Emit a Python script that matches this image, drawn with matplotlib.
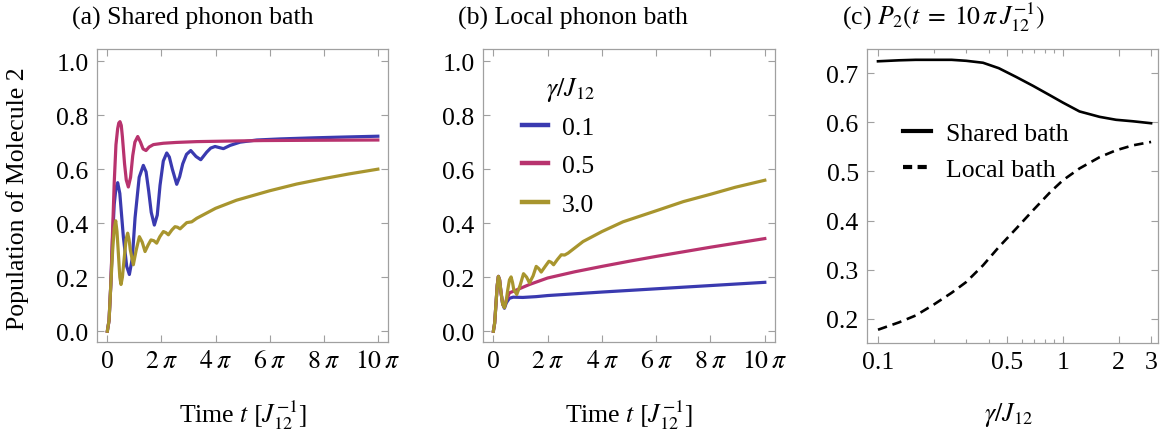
import numpy as np
import matplotlib
matplotlib.use("Agg")
import matplotlib.pyplot as plt
from matplotlib.ticker import FixedLocator, NullFormatter

plt.rcParams['font.family'] = ['Liberation Serif', 'DejaVu Serif']
plt.rcParams['mathtext.fontset'] = 'stix'

# ---- panel (a): shared phonon bath, time in units of 1/J12
t_a_01 = [0, 0.2, 0.4, 0.6, 0.8, 1.0, 1.2, 1.45, 1.86, 2.25, 2.56, 2.90, 3.22, 3.70, 4.18, 4.50, 4.80, 5.10, 5.46, 5.80,
          6.12, 6.50, 6.90, 7.20, 7.55, 8.06, 8.40, 8.76, 9.20, 9.69, 10.30, 10.85, 11.54, 12.0, 12.51, 13.0, 13.48, 14.26, 15.42, 17.36,
          20.07, 23.94, 27.5, 31.42]
p_a_01 = [0, 0.04, 0.17, 0.34, 0.47, 0.53, 0.55, 0.51, 0.35, 0.24, 0.21, 0.27, 0.42, 0.57, 0.614, 0.59, 0.52, 0.44, 0.393, 0.43,
          0.54, 0.63, 0.66, 0.645, 0.60, 0.544, 0.572, 0.62, 0.655, 0.669, 0.647, 0.635, 0.663, 0.678, 0.684, 0.680, 0.676, 0.688, 0.700, 0.708,
          0.712, 0.716, 0.719, 0.722]
t_a_05 = [0, 0.2, 0.4, 0.6, 0.8, 1.0, 1.2, 1.33, 1.47, 1.62, 1.75, 2.0, 2.2, 2.44, 2.7, 2.95, 3.2, 3.53, 3.85, 4.15,
          4.49, 4.85, 5.35, 6.51, 8.0, 10.38, 14.0, 18.13, 24.0, 31.42]
p_a_05 = [0, 0.04, 0.17, 0.36, 0.55, 0.69, 0.75, 0.771, 0.776, 0.762, 0.72, 0.62, 0.56, 0.534, 0.57, 0.65, 0.70, 0.721, 0.70, 0.675,
          0.669, 0.682, 0.691, 0.696, 0.699, 0.702, 0.704, 0.706, 0.707, 0.708]
t_a_30 = [0, 0.2, 0.4, 0.62, 0.8, 0.97, 1.12, 1.28, 1.45, 1.59, 1.75, 1.98, 2.18, 2.36, 2.52, 2.67, 3.02, 3.35, 3.72, 4.05,
          4.38, 4.75, 5.07, 5.40, 5.73, 6.10, 6.51, 6.80, 7.09, 7.50, 7.86, 8.15, 8.45, 9.22, 9.80, 10.38, 12.57, 15.0, 18.85, 22.0,
          25.13, 28.0, 31.42]
p_a_30 = [0, 0.04, 0.17, 0.30, 0.38, 0.409, 0.37, 0.289, 0.20, 0.173, 0.20, 0.277, 0.34, 0.363, 0.34, 0.301, 0.246, 0.30, 0.350, 0.33,
          0.295, 0.32, 0.338, 0.335, 0.326, 0.35, 0.369, 0.365, 0.357, 0.375, 0.387, 0.385, 0.379, 0.402, 0.405, 0.418, 0.455, 0.485, 0.52, 0.545,
          0.565, 0.582, 0.60]

# ---- panel (b): local phonon bath
t_b_01 = [0, 0.15, 0.31, 0.45, 0.58, 0.72, 0.89, 1.08, 1.28, 1.50, 1.86, 2.3, 3.41, 4.96, 6.28, 12.57, 18.85, 25.13, 31.42]
p_b_01 = [0, 0.03, 0.105, 0.17, 0.203, 0.19, 0.142, 0.10, 0.085, 0.105, 0.122, 0.126, 0.125, 0.128, 0.132, 0.145, 0.157, 0.169, 0.181]
t_b_05 = [0, 0.15, 0.31, 0.45, 0.58, 0.72, 0.89, 1.08, 1.28, 1.50, 1.86, 2.63, 4.18, 6.28, 9.42, 12.57, 15.71, 18.85, 21.99, 25.13,
          28.27, 31.42]
p_b_05 = [0, 0.03, 0.105, 0.17, 0.203, 0.19, 0.142, 0.10, 0.09, 0.115, 0.142, 0.152, 0.173, 0.197, 0.22, 0.240, 0.259, 0.277, 0.294, 0.311,
          0.327, 0.343]
t_b_30 = [0, 0.15, 0.31, 0.45, 0.58, 0.72, 0.89, 1.08, 1.28, 1.47, 1.67, 1.86, 2.05, 2.22, 2.36, 2.71, 3.10, 3.49, 3.85, 4.18,
          4.60, 4.96, 5.25, 5.54, 6.0, 6.43, 6.70, 6.97, 7.40, 7.86, 8.25, 8.64, 9.41, 10.38, 12.57, 15.0, 18.85, 22.0, 25.13, 28.0,
          31.42]
p_b_30 = [0, 0.03, 0.105, 0.17, 0.203, 0.19, 0.142, 0.10, 0.087, 0.11, 0.154, 0.19, 0.201, 0.18, 0.154, 0.136, 0.17, 0.213, 0.20, 0.179,
          0.205, 0.240, 0.232, 0.219, 0.24, 0.259, 0.255, 0.246, 0.265, 0.283, 0.282, 0.289, 0.308, 0.332, 0.369, 0.405, 0.446, 0.48, 0.507, 0.533,
          0.559]

# ---- panel (c): P2 at t = 10 pi / J12 vs gamma/J12
gamma_c = [0.1, 0.13, 0.16, 0.2, 0.25, 0.3, 0.37, 0.45, 0.56, 0.69, 0.85, 1.0, 1.23, 1.58, 1.94, 2.39, 3.0]
p2_shared = [0.724, 0.726, 0.727, 0.727, 0.727, 0.725, 0.721, 0.710, 0.692, 0.674, 0.655, 0.640, 0.622, 0.611, 0.605, 0.602, 0.598]
p2_local = [0.178, 0.193, 0.207, 0.229, 0.253, 0.275, 0.309, 0.346, 0.384, 0.421, 0.457, 0.482, 0.506, 0.529, 0.543, 0.553, 0.560]

gamma_labels = ['0.1', '0.5', '3.0']
colors = ['#3a3ab0', '#b8336e', '#a8952e']
pi_ticks = [0, 2*np.pi, 4*np.pi, 6*np.pi, 8*np.pi, 10*np.pi]
pi_labels = ['0', r'$2\:\pi$', r'$4\:\pi$', r'$6\:\pi$', r'$8\:\pi$', r'$10\:\pi$']

W, H = 1160, 435
fig = plt.figure(figsize=(W/100, H/100), dpi=100)
ax_a = fig.add_axes([97/W, 92/H, 291/W, 293/H])
ax_b = fig.add_axes([483/W, 92/H, 292/W, 293/H])
ax_c = fig.add_axes([867/W, 91/H, 291/W, 294/H])

frame = '#a0a0a0'
fs = 18.5

def style(ax):
    for s in ax.spines.values():
        s.set_color(frame)
        s.set_linewidth(0.9)
    ax.tick_params(which='both', direction='in', top=True, right=True, color=frame,
                   labelsize=fs, pad=6, width=0.8)
    ax.tick_params(which='major', length=5)
    ax.tick_params(which='minor', length=3)

for ax, series in [(ax_a, [(t_a_01, p_a_01), (t_a_05, p_a_05), (t_a_30, p_a_30)]),
                   (ax_b, [(t_b_01, p_b_01), (t_b_05, p_b_05), (t_b_30, p_b_30)])]:
    for (t, p), c, lab in zip(series, colors, gamma_labels):
        ax.plot(t, p, color=c, lw=2.3, label=lab, solid_joinstyle='round')
    ax.set_xlim(-1.2, 32.6)
    ax.set_ylim(-0.04, 1.045)
    ax.set_xticks(pi_ticks)
    ax.set_xticklabels(pi_labels)
    ax.set_yticks([0, 0.2, 0.4, 0.6, 0.8, 1.0])
    ax.set_yticklabels(['0.0', '0.2', '0.4', '0.6', '0.8', '1.0'])
    style(ax)

leg_b = ax_b.legend(loc='upper left', bbox_to_anchor=(0.09, 0.815), frameon=False, fontsize=fs,
                    handlelength=1.0, handletextpad=0.55, labelspacing=0.6, borderpad=0)
for ln in leg_b.get_lines():
    ln.set_linewidth(3.2)
ax_b.text(0.215, 0.863, r'$\gamma/J_{12}$', transform=ax_b.transAxes, fontsize=fs, va='center', ha='left')

ax_c.plot(gamma_c, p2_shared, color='black', lw=1.9, label='Shared bath')
ax_c.plot(gamma_c, p2_local, color='black', lw=1.9, dashes=(3.6, 2.2), label='Local bath')
ax_c.set_xscale('log')
ax_c.set_xlim(0.0872, 3.27)
ax_c.set_ylim(0.151, 0.749)
ax_c.xaxis.set_major_locator(FixedLocator([0.1, 0.5, 1, 2, 3]))
ax_c.xaxis.set_minor_locator(FixedLocator([0.2, 0.3, 0.4, 0.6, 0.7, 0.8, 0.9]))
ax_c.xaxis.set_minor_formatter(NullFormatter())
ax_c.set_xticklabels(['0.1', '0.5', '1', '2', '3'])
ax_c.set_yticks([0.2, 0.3, 0.4, 0.5, 0.6, 0.7])
ax_c.set_yticklabels(['0.2', '0.3', '0.4', '0.5', '0.6', '0.7'])
style(ax_c)
leg_c = ax_c.legend(loc='upper left', bbox_to_anchor=(0.08, 0.795), frameon=False, fontsize=fs,
                    handlelength=1.1, handletextpad=0.55, labelspacing=0.5, borderpad=0)
leg_c.get_lines()[0].set_linewidth(3.0)
leg_c.get_lines()[1].set_linewidth(3.0)
leg_c.get_lines()[1].set_dashes((2.2, 1.3))

fig.text(72/W, 1-18/H, '(a) Shared phonon bath', fontsize=fs, ha='left', va='center')
fig.text(458/W, 1-18/H, '(b) Local phonon bath', fontsize=fs, ha='left', va='center')
fig.text(842/W, 1-17/H, r'(c) $P_2(t\;=\;10\,\pi\, J_{12}^{-1})$', fontsize=fs, ha='left', va='center')

fig.text(18/W, 1-199/H, 'Population of Molecule 2', fontsize=fs, rotation=90, ha='center', va='center')
fig.text(243/W, 1-415/H, r'Time $t$ $[J_{12}^{-1}]$', fontsize=fs, ha='center', va='center')
fig.text(629/W, 1-415/H, r'Time $t$ $[J_{12}^{-1}]$', fontsize=fs, ha='center', va='center')
fig.text(1008/W, 1-415/H, r'$\gamma/J_{12}$', fontsize=fs, ha='center', va='center')

fig.savefig('out.png', dpi=100)
